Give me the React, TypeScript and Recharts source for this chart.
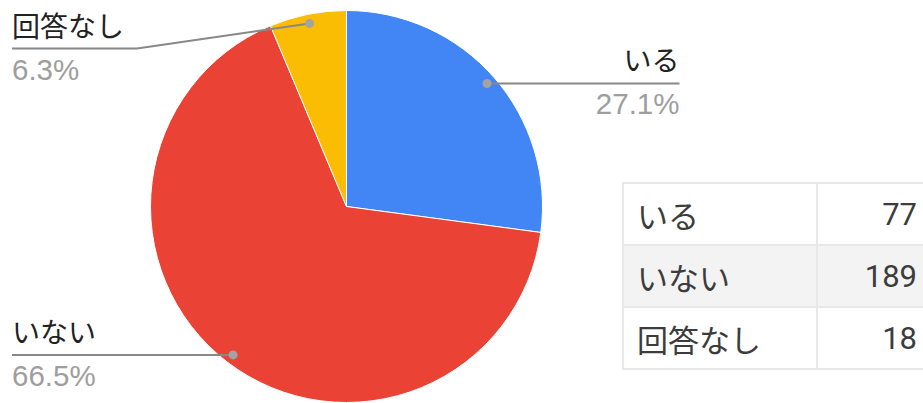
import React from 'react';
import { PieChart, Pie, Cell } from 'recharts';

const categories = ['いる', 'いない', '回答なし'];
const counts = [77, 189, 18];
const sliceColors = ['#4285F4', '#EA4335', '#FBBC04'];

const data = categories.map((name, i) => ({ name, value: counts[i] }));

const RAD = Math.PI / 180;
const FONT = "'Liberation Sans', Arial, 'Noto Sans CJK JP', sans-serif";
const TABLE_FONT = "Roboto, 'Noto Sans CJK JP', sans-serif";

const renderLabel = (props: any) => {
  const { cx, cy, midAngle, outerRadius, percent, index, name } = props;
  const r = outerRadius * 0.953;
  const cos = Math.cos(-midAngle * RAD);
  const sin = Math.sin(-midAngle * RAD);
  const dx = cx + r * cos;
  const dy = cy + r * sin;
  const right = cos > 0;
  let endX: number;
  let lineY: number;
  let pts: string;
  if (right) {
    endX = cx + outerRadius + 137;
    lineY = dy;
    pts = `${dx},${dy} ${endX},${lineY}`;
  } else {
    endX = 12;
    lineY = Math.max(dy, cy - outerRadius + 38);
    const elbowX = lineY !== dy ? endX + 125 : dx;
    pts = `${dx},${dy} ${elbowX},${lineY} ${endX},${lineY}`;
  }
  const anchor = right ? 'end' : 'start';
  return (
    <g key={`lbl-${index}`}>
      <polyline points={pts} fill="none" stroke="#888888" strokeWidth={2} />
      <circle cx={dx} cy={dy} r={4.5} fill="#a3a3a3" />
      <text x={endX} y={lineY - 12} textAnchor={anchor} fontSize={28} fill="#222222" fontFamily={FONT}>
        {name}
      </text>
      <text x={endX} y={lineY + 31} textAnchor={anchor} fontSize={29.5} fill="#9e9e9e" fontFamily={FONT}>
        {(percent * 100).toFixed(1)}%
      </text>
    </g>
  );
};

export default function App() {
  return (
    <div
      style={{
        position: 'absolute',
        left: 0,
        top: 0,
        width: 923,
        height: 403,
        overflow: 'hidden',
        background: '#ffffff',
      }}
    >
      <PieChart width={923} height={403} margin={{ top: 0, right: 0, bottom: 0, left: 0 }}>
        <Pie
          data={data}
          dataKey="value"
          nameKey="name"
          cx={346.5}
          cy={206.5}
          outerRadius={196}
          startAngle={90}
          endAngle={-270}
          stroke="#ffffff"
          strokeWidth={1}
          isAnimationActive={false}
          labelLine={false}
          label={renderLabel}
        >
          {data.map((d, i) => (
            <Cell key={d.name} fill={sliceColors[i]} />
          ))}
        </Pie>
      </PieChart>
      <div
        style={{
          position: 'absolute',
          left: 622,
          top: 182,
          width: 320,
          fontFamily: TABLE_FONT,
          fontSize: 31,
          color: '#3c3c3c',
          borderTop: '2px solid #e8e8e8',
          borderLeft: '2px solid #e8e8e8',
        }}
      >
        {data.map((d, i) => (
          <div
            key={d.name}
            style={{
              display: 'flex',
              height: 60,
              borderBottom: '2px solid #e8e8e8',
              background: i === 1 ? '#f3f3f3' : '#ffffff',
            }}
          >
            <div
              style={{
                width: 194,
                borderRight: '2px solid #e8e8e8',
                display: 'flex',
                alignItems: 'center',
                paddingLeft: 13,
                boxSizing: 'border-box',
              }}
            >
              {d.name}
            </div>
            <div
              style={{
                width: 99,
                display: 'flex',
                alignItems: 'center',
                justifyContent: 'flex-end',
              }}
            >
              {d.value}
            </div>
          </div>
        ))}
      </div>
    </div>
  );
}
